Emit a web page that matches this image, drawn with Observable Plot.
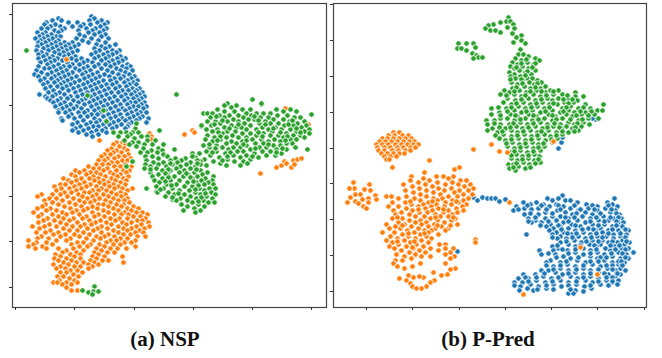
<!DOCTYPE html>
<html><head><meta charset="utf-8">
<script src="https://cdn.jsdelivr.net/npm/d3@7"></script>
<script src="https://cdn.jsdelivr.net/npm/@observablehq/plot@0.6"></script>
<style>
body{margin:0;background:#fff}
#row{display:flex;width:662px}
figure{margin:0}
figcaption{font:700 21px "Liberation Serif",serif;color:#111;text-align:center;line-height:22px}
svg{display:block}
</style></head><body><div id="row"></div>
<script>
// Each row: first number = y, the rest = x values (embedding units)
const nspBlue=[[16,91],[18,58,94],[20,52,61,89,101],[22,46,68,77,97,107],[24,44,55,83,90,104],[26,50,60,72,80,100],[28,41,47,64,86,95,106],[30,54,61,78,92,103],[32,37,45,58,88,99],[34,42,51,79,94,105],[36,39,47,56,60,84,101],[38,35,43,52,76,91,108],[40,40,48,58,82,98],[42,38,45,55,64,72,88,105],[44,41,51,60,68,78,96,115],[46,37,47,56,65,74,101,109],[48,43,52,61,70,94,105],[50,36,48,58,66,77,99,112,119],[52,41,54,63,72,95,107,116],[54,38,46,59,68,91,103,112],[56,43,52,64,75,98,108,120],[58,38,49,57,71,81,94,105,117,125],[60,45,54,62,76,87,101,112,122],[62,40,50,67,83,92,108,118],[64,47,58,72,79,98,105,114,127],[66,38,53,63,69,87,94,110,122,130],[68,44,49,60,75,83,101,116,126],[70,36,56,66,79,90,107,120,132],[72,41,51,62,72,85,97,112,125],[74,34,47,58,68,82,92,104,118,129],[76,38,54,64,76,88,99,109,123,134],[78,44,51,60,71,84,95,114,120,131],[80,40,57,67,79,91,103,110,127,137],[82,47,54,63,74,87,98,116,124,133],[84,43,60,70,83,94,106,112,129,136],[86,50,57,66,78,90,101,119,126],[88,45,62,73,85,96,108,115,132,139],[90,53,68,80,92,104,122,128,136],[92,48,59,75,87,99,111,118,134,142],[94,39,55,64,82,94,106,125,131,139],[96,45,52,70,77,90,101,114,121,136,144],[98,47,60,67,85,97,109,127,133,141],[100,50,57,73,81,93,104,117,124,138],[102,53,64,78,89,100,112,130,135,144],[104,60,70,84,96,107,120,127,141],[106,55,66,76,91,103,115,133,138,146],[108,62,73,81,98,110,122,129,143],[110,58,69,87,94,105,118,125,136],[112,58,65,78,84,100,113,131,140,146],[114,71,91,97,108,120,127,137],[116,68,80,87,103,115,133,142],[118,61,74,94,110,122,129,139,148],[120,62,83,99,106,118,125,136],[122,77,90,96,113,131,146],[124,72,86,103,109,121,128],[126,80,93,98,116,127],[128,75,88,105,112,125],[130,72,83,96,102],[132,78,91,106],[134,86,98],[136,92]];
const nspOrange=[[142,116,122],[144,113,125],[146,119],[148,111,124],[150,107,116,127],[152,113,121],[154,104,110,128],[156,101,118,124],[158,107,114,130],[160,98,104,122,127],[162,111,117],[164,96,102,108,125],[166,88,114,120,131],[168,93,99,107],[170,75,84,103,116,123,129],[172,79,90,96,110,126],[174,71,86,100,113,120],[176,75,93,105,117,128],[178,63,81,89,98,111,123],[180,68,76,94,103,115,126],[182,71,84,99,108,120],[184,60,65,79,90,104,113,125],[186,54,74,86,96,109,118],[188,61,69,81,101,114,122,132],[190,56,76,92,98,106,127],[192,64,71,84,89,111,120],[194,41,52,60,78,96,103,116,125],[196,37,67,82,92,108,121],[198,49,56,73,87,99,113,127],[200,44,62,79,94,105,118,124],[202,52,69,84,90,110,129],[204,45,58,75,98,103,116,123],[206,42,64,81,92,108,121,133],[208,37,50,70,87,97,113,127,138],[210,46,56,76,83,103,118,131],[212,33,62,72,92,108,124,136,142],[214,41,52,66,79,98,114,121,128,147],[216,38,58,86,94,104,133,140],[218,47,63,73,82,110,119,127,145],[220,43,54,69,89,100,115,137,142],[222,38,60,77,95,106,122,131,148],[224,49,66,84,91,111,126,141],[226,32,44,56,72,80,101,118,136,149],[228,39,63,87,97,107,123,131,144],[230,50,69,77,93,113,127,139],[232,36,45,58,83,101,118,135,143],[234,53,65,74,89,108,123,130],[236,41,60,79,96,104,114,137,145],[238,37,48,70,86,100,120,127],[240,28,56,66,93,110,116,135],[242,36,46,77,83,106,124,131],[244,33,52,71,90,99,113,120],[246,28,42,79,87,104,135],[248,35,46,58,73,96,110,117,126],[250,66,83,101],[252,62,76,94,107,114],[254,55,70,80,98],[256,60,74,92,104,122],[258,54,66,80,96],[260,58,71,90,102,108],[262,63,76,83,94,123],[264,53,68,88,98],[266,60,74,80,92],[268,56,65,88],[270,70,77],[272,60,66,82],[274,73],[276,57,63,78],[278,69],[280,59,74],[282,53,57,66,77],[284,62,71],[287,66],[290,71,77],[140,99],[59,66],
[133,149],[136,151],[139,151],[134,184],[130,192],[132,194],[173,260],[167,276,291],[165,281],[161,284],[163,286],[160,293],[164,294],[159,297],[158,301],[108,285],[124,308]];
const nspGreen=[[50,26],[95,87],[110,103],[121,106],[94,176],[104,261],[114,311],[149,307],[126,201],[130,159],[149,174],[161,132],[188,146],[191,156],[199,172],
[99,252],[103,227,261],[105,224,236],[107,231],[109,217,242,250,276,290],[111,224,234,283,296],[113,203,207,212,246,256,263,270],[115,219,229,238,251,277,287],[117,210,224,243,260,268,294,300],[119,233,248,254,273,283],[121,207,215,227,238,265,289,304],[123,220,244,259,270,278,297],[125,201,211,231,250,284,293,306],[127,224,236,241,262,275,301],[129,206,217,246,256,268,281,290,309],[131,212,227,235,272,296,304],[133,222,242,250,263,286,309],[135,207,232,256,270,278,293,300],[137,214,226,238,246,283,304],[139,205,220,252,261,274,290,296],[141,212,231,242,268,280],[143,226,236,255,263,286,292],[145,203,216,246,273,280],[147,209,222,233,240,259,266,295],[149,228,250,276,286],[151,206,216,237,243,262,270],[153,192,199,225,254,281],[155,210,233,246,266,275],[157,195,219,240,258],[159,204,227,250],[161,200,213,234,243],[163,220,247],[165,206,226,240],
[116,216,254],[120,222,258,292],[124,214,238,265,288],[128,229,273,296],[132,218,258,280,300],[136,220,262,287],[140,217,246,285],[144,209,243,268],[148,215,255,282],[152,212,230,276],[156,227,252],[160,222],
[128,135],[123,136],[132,113,120,126,132,138],[134,130],[136,118,127,141,147],[138,134],[140,124,147,155],[142,132,138],[144,129,144,152,163],[146,136],[148,143,158],[150,151,162],[152,140,147,157],[154,163],[156,145,152,167,192],[158,158,175,185],[160,146,170,181,197],[162,153,163,177,190],[164,145,158,172,186,200],[166,150,166,180,195],[168,144,156,176,190],[170,162,170,184,200],[172,150,179,194,207],[174,158,167,188,202],[176,152,174,183,197,213],[178,162,192,205],[180,154,170,179,201,212],[182,159,187,196,208],[184,166,176,204,213],[186,156,184,192],[188,163,172,199,209,215],[190,179,189,204],[192,157,168,195,211],[194,174,184,200,215],[196,165,190,206],[198,180,196,212],[200,176,187,203],[202,192,208,214],[204,181,198],[206,187,204],[208,194],[210,183,200],[212,195],
[163,170,197],[169,150,168,196],[173,165,186],[177,168,190],[181,165,193],[185,171,198],[189,160,195],[193,178,205],[197,172,201],[201,198],
[166,126],[161,132],[290,82],[292,88],[286,94],[291,93,98],[294,92]];
const predGreen=[[17,508],[21,506,510],[22,500],[24,493,513],[25,488],[27,507],[28,485,514],[30,490,495],[32,500],[33,512],[35,521],[37,516],[40,521],[42,513],[43,525,458,466,473],[47,475],[48,457,461],[50,466],[53,472],[55,476],[57,478,482],[58,473],[49,520],
[54,518,523],[56,528],[58,515,535],[60,521,539],[62,512,527],[64,517,533],[66,510,522],[68,514,528],[70,519,535],[72,509,525],[74,514,531],[76,510,520],[78,515,527,532],[80,522,537],[82,511,529,541],[84,517,534],[86,524,545],[88,512,530,540],[90,504,519,536,550,558],[92,509,526,545,575],[94,500,514,533,553,562],[96,521,540,575,583],[98,507,528,547,558,568],[100,515,535,552,577],[102,503,523,542,564,573],[104,511,530,549,557,585,603],[106,518,537,570],[108,491,506,525,544,562,578,590],[110,514,532,552,568,597,602],[112,499,521,540,560,574,585],[114,491,510,528,548,566,581,594],[116,517,536,555,572],[118,500,507,525,544,562,588,598],[120,486,494,514,532,552,578],[122,520,540,568,583],[124,487,500,509,527,547,560,574,589],[126,516,535,553,566,581],[128,492,505,522,542,561,572],[130,487,511,530,548,578],[132,497,517,537,556,568],[134,503,524,544,562],[136,511,531,550],[138,499,518,538,557],[140,505,525,545],[142,512,532,552],[144,519,538],[146,507,526,544],[148,514,533],[150,520,540],[152,510,527],[154,516,534],[156,522,539],[158,511,528],[160,517,534],[162,523,540],[164,508,513,529],[166,518],[168,509,525],[170,515],
[59,526],[63,521,535],[67,516,532],[71,527],[75,525],[79,510,521],[83,522,537],[87,516,535],[91,514,530,541,553],[95,506,525,546,567],[99,521,541,563,572],[103,516,536,553,568],[107,498,511,531,549,566,583],[111,507,526,545,563,580,591],[115,500,515,533,552,576,588],[119,520,538,556,570,582],[123,494,513,533,554,577],[127,499,510,528,547,559,575],[131,502,523,541,562,574],[135,495,517,537,556],[139,511,531,551],[143,506,525,543],[147,520,538],[151,514,533],[155,511,528],[159,522,538],[163,516,535],[167,513,530]];
const predOrange=[[132,393,399],[135,388,394,402,408],[138,382,387,393,399,405,411],[141,379,385,391,397,403,409,414],[144,376,382,388,395,401,407,413,418],[147,377,384,390,397,403,410,415],[150,378,384,392,398,405,410],[153,381,387,393,399,404],[156,384,390,396],[159,386,389],[167,392],[160,429],[149,473],[144,491],[151,499],[152,507],[141,553],
[182,353],[184,369],[188,354,349],[189,364],[190,370],[195,375],[197,350],[194,355,360],[199,362,376],[198,368],[202,347,368],[201,355],[206,363],[208,366],[203,358],
[167,459],[169,454],[172,424],[176,411,436,443,453],[178,423,448],[180,410,429,460,466],[182,418,437,452],[184,403,425,445,458,470],[186,412,432,464],[188,419,438,451,473],[190,405,426,444,459,468],[192,413,433,454],[194,420,440,463,472],[196,386,391,406,426,448,457],[198,398,414,433,442,468],[200,420,437,452,463],[202,392,405,428,445,458],[204,411,423,436,451,466],[206,388,398,418,431,444,462],[208,406,425,438,456],[210,393,412,432,448,463],[212,401,419,427,443,457],[214,395,409,435,452],[216,415,424,440,448],[218,392,402,430,455],[220,409,420,437,451],[222,398,415,426,444],[224,386,404,421,434,457],[226,395,411,428,441],[228,389,400,418,435,448],[230,407,424,431,445],[232,382,394,414,428],[234,402,420,438],[236,390,408,426],[238,397,415,431],[240,386,404,421],[242,392,410,428],[244,398,416,439,445],[246,389,406,423],[248,394,413,430,445,453],[250,401,419,438],[252,409,425,450],[254,396,415,445],[256,404,421,430,454],[258,411,450],[260,395,402],[263,393,420,445],[266,397,412],[268,404,455],[269,450],[272,433],[275,441,408],[274,447],[277,413,423],[276,419],[278,399],[280,406,434],[282,430],[283,410],[286,426,412],[288,421,416],[239,475],[242,475],[247,580],[274,597],[294,523],[202,509],
[201,410,432,456],[209,418,443],[217,397,435,453],[225,402,437,450],[233,408,424],[241,397,414],[247,412]];
const predBlue=[[195,562],[197,473,482],[198,487,491,495,547,558,614],[200,477,552,565,570],[201,499],[199,505],[202,523,536,577,607],[204,530,543,556,586,612],[206,516,549,563,597,617],[208,524,538,570,588,605],[210,513,531,557,578,597,615],[212,545,565,585,610],[214,524,538,572,592,619],[216,552,560,582,603],[218,528,545,568,590,613,621],[220,535,556,577,598,608],[222,531,541,563,585,618,623],[224,550,571,592,604],[226,546,560,580,612,622],[228,553,568,588,600],[230,549,575,595,608,618,628],[232,556,563,583,602],[234,526,552,571,590,613,626],[236,560,578,597,606,620],[238,557,566,585,613],[240,574,592,602,622],[242,560,581,608,617,629],[244,568,589,600,624],[246,552,575,596,614],[248,558,583,605,621,628],[250,539,553,567,590,610],[252,575,597,618,633],[254,541,555,583,604,626],[256,563,590,612],[258,570,597,620,628],[260,550,577,604],[262,546,560,585,612,624],[264,567,592,618],[266,553,575,600],[268,560,583,607,620],[270,541,548,568,590,615,625],[272,555,575,598],[274,523,535,562,583,608,620],[276,543,570,590,615],[278,518,528,551,577,598],[280,536,560,585,606,618],[282,514,522,545,568,592,612],[284,530,553,576,600,617],[286,520,538,561,584],[288,527,546,591],[290,519,533,575],[291,583],[293,568,573],[142,561],[137,562],[148,558],[119,595],[118,592],[251,457],
[205,527,541,558,574,592,608],[209,518,531,546,560,580,594,611],[213,530,552,576,600,616],[217,535,565,574,596,610,618],[221,528,548,568,590,604,616],[225,540,558,575,598,616],[229,561,582,593,612,625],[233,567,576,596,608,620],[237,552,572,591,602,625],[241,566,586,598,612,626],[245,557,580,594,610,619],[249,562,575,596,615,625],[253,548,568,590,611,622],[257,556,578,600,606,625],[261,566,590,598,618,621],[265,546,560,583,606,612,622],[269,553,576,598,612],[273,544,568,590,604,617],[277,525,536,558,583,606,612],[281,528,552,576,598,612],[285,514,546,568,590,608],[289,537,553,570]];
const ticksA={x:[15,74,134,193,252,311],y:[14,59,105,150,196,241,287]};
const ticksB={x:[366,412,459,505,551,597,644],y:[4,40,76,112,148,183,219,255,291]};
const flat=(rows)=>rows.flatMap(([y,...xs])=>xs.map(x=>({x,y})));
const dot=(rows,fill)=>Plot.dot(flat(rows),{x:"x",y:"y",r:2.8,fill,stroke:"#fff",strokeWidth:0.9});
function panel(cfg){
  const p=Plot.plot({width:cfg.w,height:316,marginLeft:cfg.l,marginRight:cfg.r,marginTop:3,marginBottom:9,
    x:{domain:cfg.xd},y:{domain:[307,3]},
    marks:[...cfg.series.map(([d,c])=>dot(d,c)),
      Plot.frame({stroke:"#444",strokeWidth:1.2}),
      Plot.axisX({ticks:cfg.t.x,tickFormat:()=>"",label:null,tickSize:3,stroke:"#333"}),
      Plot.axisY({ticks:cfg.t.y,tickFormat:()=>"",label:null,tickSize:3,stroke:"#333"})]});
  const f=document.createElement("figure");f.style.width=cfg.w+"px";f.append(p);
  const c=document.createElement("figcaption");c.textContent=cfg.cap;c.style.marginTop="12px";c.style.paddingRight=cfg.pad+"px";f.append(c);
  document.getElementById("row").append(f);
}
panel({w:330,l:12,r:4,xd:[12,326],t:ticksA,cap:"(a) NSP",pad:0,series:[[nspBlue,"#1f77b4"],[nspOrange,"#ff7f0e"],[nspGreen,"#2ca02c"]]});
panel({w:332,l:3,r:16,xd:[333,646],t:ticksB,cap:"(b) P-Pred",pad:16,series:[[predBlue,"#1f77b4"],[predGreen,"#2ca02c"],[predOrange,"#ff7f0e"]]});
</script></body></html>
